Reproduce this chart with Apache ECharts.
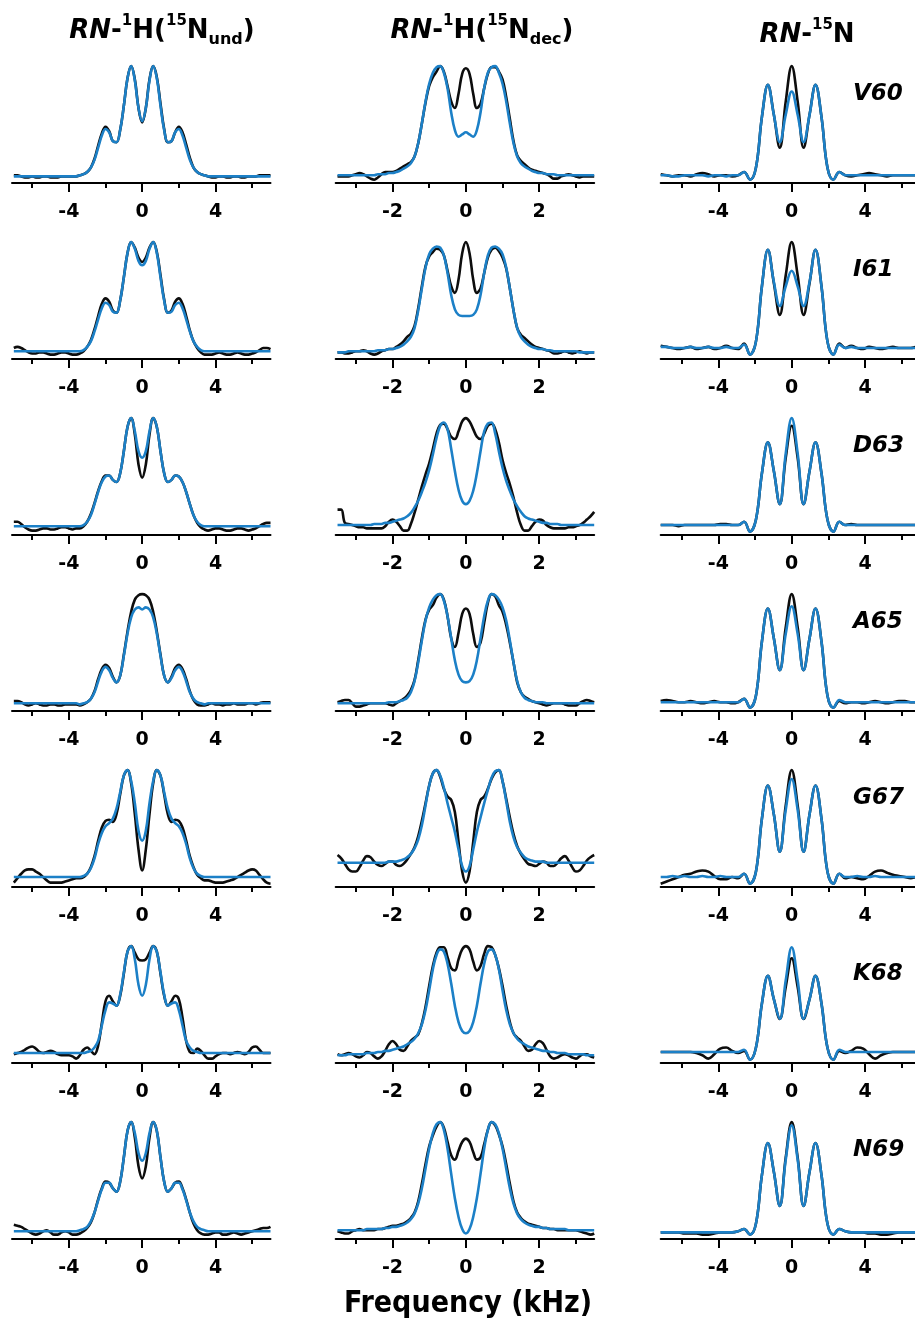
<!DOCTYPE html>
<html>
<head>
<meta charset="utf-8">
<script src="https://cdn.jsdelivr.net/npm/echarts@6/dist/echarts.min.js"></script>
<style>
  html, body { margin: 0; padding: 0; background: #fff; }
  #chart { width: 915px; height: 1328px; }
</style>
</head>
<body>
<div id="chart"></div>
<script>
// frequency grids (kHz) of the three columns
const xsUnd = [-7,-6.8,-6.6,-6.4,-6.2,-6,-5.8,-5.6,-5.4,-5.2,-5,-4.8,-4.6,-4.4,-4.2,-4,-3.8,-3.6,
  -3.4,-3.2,-3,-2.8,-2.6,-2.4,-2.2,-2,-1.8,-1.6,-1.4,-1.2,-1,-0.8,-0.6,-0.4,-0.2,0,0.2,0.4,0.6,0.8,1,1.2,1.4,1.6,1.8,2,2.2,2.4,2.6,2.8,3,3.2,3.4,
  3.6,3.8,4,4.2,4.4,4.6,4.8,5,5.2,5.4,5.6,5.8,6,6.2,6.4,6.6,6.8,7];
const xsDec = [-3.5,-3.4,-3.3,-3.2,-3.1,-3,-2.9,-2.8,-2.7,-2.6,-2.5,-2.4,-2.3,-2.2,-2.1,-2,-1.9,-1.8,
  -1.7,-1.6,-1.5,-1.4,-1.3,-1.2,-1.1,-1,-0.9,-0.8,-0.7,-0.6,-0.5,-0.4,-0.3,-0.2,-0.1,0,0.1,0.2,0.3,0.4,0.5,0.6,0.7,0.8,0.9,1,1.1,1.2,1.3,1.4,1.5,1.6,1.7,
  1.8,1.9,2,2.1,2.2,2.3,2.4,2.5,2.6,2.7,2.8,2.9,3,3.1,3.2,3.3,3.4,3.5];
const xsN15 = [-7.15,-6.825,-6.5,-6.175,-5.85,-5.525,-5.2,-4.875,-4.55,-4.225,-3.9,-3.575,-3.25,-2.925,-2.6,
  -2.275,-1.95,-1.625,-1.3,-0.975,-0.65,-0.325,0,0.325,0.65,0.975,1.3,1.625,1.95,2.275,
  2.6,2.925,3.25,3.575,3.9,4.225,4.55,4.875,5.2,5.525,5.85,6.175,6.5,6.825,7.15];

const residues = ['V60', 'I61', 'D63', 'A65', 'G67', 'K68', 'N69'];
const majorWide = [-4, 0, 4], minorWide = [-6, -2, 2, 6];
const majorDec = [-2, 0, 2], minorDec = [-3, -1, 1, 3];

// RN-1H(15N undecoupled): experiment (black) and fit (blue)
const und_V60 = [1,1,0,-1,-1,0,-1,-1,0,0,-1,-1,-1,0,0,0,0,0, 1,2,4,8,16,28,39,45,41,32,31,42,64,89,100,88,62,49,62,88,100,90,66,43,31,32,40,45,40,29,17,8,4,2,1, 0,-1,-1,0,0,-1,-1,0,0,-1,-1,0,0,0,1,1,1,1];
const und_V60_fit = [0,0,0,0,0,0,0,0,0,0,0,0,0,0,0,0,0,0, 1,2,4,8,15,26,37,43,40,32,31,42,64,89,100,87,62,50,62,87,100,89,64,42,31,32,40,43,37,26,15,8,4,2,1, 0,0,0,0,0,0,0,0,0,0,0,0,0,0,0,0,0,0];
const und_I61 = [4,5,4,2,0,-1,-1,0,0,-1,-2,-2,-1,0,0,-1,-2,-2, -1,1,5,11,21,33,44,49,46,38,36,47,68,90,100,95,86,82,86,95,100,91,70,48,36,38,46,49,44,33,20,10,4,0,-2, -2,-2,-1,0,-1,-2,-2,-1,0,-1,-2,-2,-1,0,2,4,4,3];
const und_I61_fit = [1,1,1,1,1,1,1,1,1,1,1,1,1,1,1,1,1,1, 1,2,5,10,19,30,40,45,43,37,36,47,68,90,100,94,83,79,83,94,100,90,68,47,36,37,43,45,40,30,19,10,5,2,1, 1,1,1,1,1,1,1,1,1,1,1,1,1,1,1,1,1,1];
const und_D63 = [6,6,4,1,-1,-2,-2,-1,0,0,-1,-1,0,1,1,0,-1,0, 0,2,6,13,23,34,43,48,48,44,42,50,70,92,100,85,58,46,58,85,100,92,70,50,42,44,48,47,42,33,22,12,5,1,-1, -2,-1,0,0,-1,-2,-2,-1,0,0,-1,-2,-1,0,2,4,5,5];
const und_D63_fit = [2,2,2,2,2,2,2,2,2,2,2,2,2,2,2,2,2,2, 2,3,6,12,22,33,42,47,48,44,42,50,70,92,100,88,70,64,70,88,100,92,70,50,42,44,48,47,42,33,22,12,6,3,2, 2,2,2,2,2,2,2,2,2,2,2,2,2,2,2,2,2,2];
const und_A65 = [3,3,2,0,-1,0,1,0,-1,-1,0,0,-1,-1,0,0,0,0, -1,0,2,5,12,23,32,36,33,25,20,26,45,66,84,95,99,100,99,95,84,66,45,26,20,25,33,36,32,23,12,4,0,-1,-1, 0,1,0,0,-1,0,0,1,0,0,0,1,1,0,1,2,2,2];
const und_A65_fit = [1,1,1,1,1,1,1,1,1,1,1,1,1,1,1,1,1,1, 0,1,2,5,11,21,30,34,31,24,20,26,44,64,79,86,88,86,88,86,79,64,44,26,20,24,31,34,30,21,11,5,2,1,0, 1,1,1,1,1,1,1,1,1,1,1,1,1,1,1,1,1,1];
const und_G67 = [-2,2,6,9,10,10,8,6,3,0,-2,-2,-2,-2,-1,0,1,2, 2,3,6,12,22,36,48,54,55,53,60,78,95,100,88,60,28,9,28,60,88,100,95,78,60,53,55,54,48,36,22,12,5,2,0, 0,-1,-2,-2,-2,-1,0,1,3,5,7,9,10,9,5,1,-2,-3];
const und_G67_fit = [3,3,3,3,3,3,3,3,3,3,3,3,3,3,3,3,3,3, 3,4,6,11,20,33,43,49,52,56,65,80,95,100,90,70,45,36,45,70,90,100,95,80,65,56,52,49,43,33,20,11,6,4,3, 3,3,3,3,3,3,3,3,3,3,3,3,3,3,3,3,3,3];
const und_K68 = [2,3,4,6,8,9,7,4,3,4,5,4,2,1,1,1,0,-2, 1,6,8,5,2,10,30,50,55,50,46,55,75,95,100,94,88,87,88,94,100,95,75,55,46,50,55,52,35,14,4,3,7,5,1, -2,-2,0,2,3,3,2,3,4,3,2,4,8,9,6,3,3,3];
const und_K68_fit = [3,3,3,3,3,3,3,3,3,3,3,3,3,3,3,3,3,3, 3,3,4,5,8,14,28,42,49,48,46,56,76,95,100,88,65,55,65,88,100,95,76,56,46,48,49,42,28,14,8,5,4,3,3, 3,3,3,3,3,3,3,3,3,3,3,3,3,3,3,3,3,3];
const und_N69 = [7,6,5,3,1,-1,-2,-1,1,2,0,-2,-2,0,1,0,-2,-2, -1,1,4,9,18,30,40,46,45,40,37,46,68,92,100,86,60,49,60,86,100,92,68,46,37,40,45,46,40,30,18,8,2,-1,-2, -2,-1,0,0,-2,-2,-1,0,-1,-2,-1,0,1,2,3,4,4,5];
const und_N69_fit = [1,1,1,1,1,1,1,1,1,1,1,1,1,1,1,1,1,1, 2,3,5,10,18,29,39,45,45,40,37,46,68,92,100,90,72,65,72,90,100,92,68,46,37,40,45,45,39,29,18,10,5,3,2, 1,1,1,1,1,1,1,1,1,1,1,1,1,1,1,1,1,1];

// RN-1H(15N decoupled)
const dec_V60 = [0,0,0,0,1,2,3,2,0,-2,-3,-1,2,4,4,4,5,7, 9,11,13,18,30,48,67,82,90,95,100,95,82,68,62,75,93,98,93,75,62,66,80,93,99,99,95,88,72,52,32,19,14,11,8, 6,5,4,3,2,0,-2,-2,0,1,2,1,0,-1,0,0,0,0];
const dec_V60_fit = [1,1,1,1,1,1,1,1,1,1,1,2,2,2,3,3,4,5, 7,9,12,18,30,48,68,84,94,99,100,94,80,58,42,36,38,40,38,36,42,58,80,94,99,100,94,84,68,48,30,18,12,9,7, 5,4,3,3,2,2,2,1,1,1,1,1,1,1,1,1,1,1];
const dec_I61 = [0,0,-1,-1,0,1,1,2,1,-1,-2,-1,1,2,3,3,5,7, 10,14,17,24,40,60,78,87,91,94,93,88,74,60,54,66,90,100,90,66,54,58,72,86,93,95,92,86,76,58,38,22,16,13,10, 7,5,4,3,2,1,-1,-1,0,1,0,-1,0,1,0,-1,0,0];
const dec_I61_fit = [0,0,0,1,1,1,1,1,1,1,1,2,2,2,3,3,4,5, 7,10,14,22,38,58,77,89,94,96,95,88,72,52,39,34,33,33,33,34,39,52,72,88,95,96,94,89,77,58,38,22,14,10,7, 5,4,3,3,2,2,1,1,1,1,1,1,1,0,0,0,0,0];
const dec_D63 = [17,17,5,4,3,2,1,1,0,0,0,0,0,2,6,8,6,2, -2,-2,4,14,26,38,49,59,72,86,94,95,90,83,81,88,97,100,97,90,83,81,86,93,95,90,78,62,50,40,28,14,3,-2,-2, 2,6,8,7,3,1,0,0,0,0,1,1,2,3,5,8,11,15];
const dec_D63_fit = [3,3,3,3,3,3,3,3,3,3,4,4,4,5,5,6,7,8, 9,11,14,19,25,33,42,53,67,82,93,96,90,72,52,35,25,22,25,34,50,70,88,95,96,86,70,55,43,34,26,20,15,11,9, 8,7,6,5,5,4,4,4,3,3,3,3,3,3,3,3,3,3];
const dec_A65 = [2,3,4,4,1,-2,-2,-1,0,1,1,1,1,1,0,-1,1,3, 5,8,13,22,40,60,77,86,90,97,100,95,80,60,52,65,82,87,82,64,52,56,74,92,100,98,90,84,72,56,38,20,11,7,5, 3,2,1,0,-1,0,1,1,1,0,-1,-1,-1,1,3,4,3,2];
const dec_A65_fit = [1,1,1,1,1,1,1,1,1,1,1,1,1,1,2,2,2,3, 4,6,11,21,38,58,76,88,95,99,100,94,80,60,40,27,21,20,21,27,40,60,80,94,100,99,95,88,76,58,38,21,11,6,4, 3,2,2,2,1,1,1,1,1,1,1,1,1,1,1,1,1,1];
const dec_G67 = [23,20,15,10,8,8,12,18,22,21,17,14,13,15,17,17,14,13, 15,19,24,30,40,54,70,86,97,100,94,83,76,73,62,35,8,-2,8,35,62,73,76,83,92,98,100,90,74,57,42,31,24,19,15, 14,13,15,17,16,13,13,16,20,22,18,12,8,9,13,18,21,23];
const dec_G67_fit = [16,16,16,16,16,16,16,16,16,16,16,16,16,16,17,17,17,18, 19,21,24,29,37,50,68,86,97,100,95,84,70,57,44,28,13,8,13,28,44,57,70,82,93,99,100,90,72,53,39,30,25,21,19, 18,17,17,17,16,16,16,16,16,16,16,16,16,16,16,16,16,16];
const dec_K68 = [2,1,2,3,2,0,-1,1,4,3,0,-2,0,5,11,14,11,6, 5,9,14,17,20,30,45,64,82,94,99,99,90,80,78,88,97,100,97,86,78,82,93,100,99,92,80,64,46,31,21,17,14,9,5, 6,11,14,12,6,0,-2,-1,1,2,1,-1,-2,0,2,2,0,-1];
const dec_K68_fit = [1,1,1,2,2,2,2,2,3,3,3,4,4,5,5,6,7,8, 9,11,13,16,21,29,42,60,79,92,97,95,84,66,46,31,23,21,23,31,46,66,84,95,97,92,79,60,42,29,21,16,13,11,9, 8,7,6,5,5,4,4,3,3,3,2,2,2,2,2,1,1,1];
const dec_N69 = [1,0,-1,-1,1,2,3,2,2,2,2,3,3,4,5,6,6,7, 8,10,13,18,28,44,62,78,88,96,100,95,82,70,66,74,82,85,82,73,66,68,80,93,100,97,89,78,62,44,28,18,13,10,8, 7,6,5,4,4,3,3,2,2,2,2,2,2,1,0,-1,-2,-1];
const dec_N69_fit = [2,2,2,2,2,2,2,2,3,3,3,3,3,4,4,5,5,6, 7,9,12,17,26,40,58,76,90,98,100,93,76,53,31,14,3,-1,3,14,31,53,76,93,100,98,90,76,58,40,26,17,12,9,7, 6,5,5,4,4,3,3,3,3,3,2,2,2,2,2,2,2,2];

// RN-15N
const n15_V60 = [2,1,0,1,1,0,2,3,2,0,1,1,0,1,4, -3,8,54,83,56,26,68,100,68,26,56,83,54,8,-3, 4,1,0,1,2,3,2,1,0,1,1,1,1,1,1];
const n15_V60_fit = [1,1,0,0,1,1,1,1,0,1,1,0,1,1,4, -3,8,54,83,56,31,56,77,56,31,56,83,54,8,-3, 4,1,1,1,1,1,1,1,1,1,1,1,1,1,1];
const n15_I61 = [6,5,4,3,4,5,3,4,5,3,4,6,4,3,8, -2,10,60,93,63,34,70,100,70,34,63,93,60,10,-2, 8,4,6,4,3,5,4,3,4,5,4,4,4,5,5];
const n15_I61_fit = [5,5,4,4,4,5,4,4,5,4,4,5,4,4,7, -2,10,60,93,64,42,60,74,60,42,64,93,60,10,-2, 7,4,5,4,4,4,4,4,4,4,4,4,4,4,4];
const n15_D63 = [3,3,3,2,3,3,3,3,3,3,4,4,3,3,6, -3,8,50,78,52,22,64,93,64,22,52,78,50,8,-3, 6,3,4,3,3,3,3,3,3,3,3,3,3,3,3];
const n15_D63_fit = [3,3,3,3,3,3,3,3,3,3,3,3,3,3,6, -3,8,50,78,52,22,68,100,68,22,52,78,50,8,-3, 6,3,3,3,3,3,3,3,3,3,3,3,3,3,3];
const n15_A65 = [3,4,3,2,2,3,2,1,2,3,2,2,1,2,5, -3,8,57,87,60,31,70,100,70,31,60,87,57,8,-3, 3,1,2,2,1,2,3,2,1,2,3,3,2,2,2];
const n15_A65_fit = [2,2,2,2,2,2,2,2,2,2,2,2,2,2,5, -3,8,57,87,60,31,64,89,64,31,60,87,57,8,-3, 4,2,2,2,2,2,2,2,2,2,2,2,2,2,2];
const n15_G67 = [-3,-1,1,3,5,6,8,9,8,4,1,1,3,2,6, -3,8,56,86,60,26,68,100,68,26,60,86,56,8,-3, 6,2,3,2,1,4,8,9,7,5,4,3,2,3,3];
const n15_G67_fit = [3,3,4,3,4,3,3,4,3,3,4,3,3,3,6, -3,8,56,86,60,26,64,92,64,26,60,86,56,8,-3, 6,3,3,4,3,3,4,3,3,3,3,3,3,3,3];
const n15_K68 = [4,4,4,4,4,4,3,1,-2,2,7,8,5,3,5, -3,8,48,73,52,34,63,89,63,34,52,73,48,8,-3, 5,3,5,8,7,2,-2,1,3,4,4,4,4,4,4];
const n15_K68_fit = [4,4,4,4,4,4,4,4,4,4,4,4,4,4,6, -3,8,48,73,52,34,69,99,69,34,52,73,48,8,-3, 6,4,4,4,4,4,4,4,4,4,4,4,4,4,4];
const n15_N69 = [0,0,0,0,-1,-1,-1,-2,-2,-1,0,0,0,1,3, -2,8,52,81,55,24,68,100,68,24,55,81,52,8,-2, 3,1,0,0,0,-1,-1,-2,-2,-1,0,0,0,0,0];
const n15_N69_fit = [0,0,0,0,0,0,0,0,0,0,0,0,0,1,3, -2,8,52,81,55,24,66,97,66,24,55,81,52,8,-2, 3,1,0,0,0,0,0,0,0,0,0,0,0,0,0];

// rows of [experiment, fit] pairs per column
const rows = [
  [[und_V60, und_V60_fit], [dec_V60, dec_V60_fit], [n15_V60, n15_V60_fit]],
  [[und_I61, und_I61_fit], [dec_I61, dec_I61_fit], [n15_I61, n15_I61_fit]],
  [[und_D63, und_D63_fit], [dec_D63, dec_D63_fit], [n15_D63, n15_D63_fit]],
  [[und_A65, und_A65_fit], [dec_A65, dec_A65_fit], [n15_A65, n15_A65_fit]],
  [[und_G67, und_G67_fit], [dec_G67, dec_G67_fit], [n15_G67, n15_G67_fit]],
  [[und_K68, und_K68_fit], [dec_K68, dec_K68_fit], [n15_K68, n15_K68_fit]],
  [[und_N69, und_N69_fit], [dec_N69, dec_N69_fit], [n15_N69, n15_N69_fit]],
];

const BLACK = '#0d0d0d';
const BLUE = '#1c80c7';
const axisY = [183, 359, 535, 711, 887, 1063, 1239];
const plotH = 118;
const cols = [
  { xs: xsUnd, left: 12, width: 258.5, min: -7.1, max: 7, major: majorWide, minor: minorWide },
  { xs: xsDec, left: 335.7, width: 258.5, min: -3.55, max: 3.5, major: majorDec, minor: minorDec },
  { xs: xsN15, left: 660.7, width: 262, min: -7.15, max: 7.15, major: majorWide, minor: minorWide },
];

const grid = [], xAxis = [], yAxis = [], series = [];
rows.forEach((row, r) => {
  row.forEach((pair, c) => {
    const col = cols[c];
    const g = grid.length;
    grid.push({ left: col.left, width: col.width, top: axisY[r] - plotH, height: plotH, outerBoundsMode: 'none' });
    xAxis.push({
      gridIndex: g, type: 'value', min: col.min, max: col.max, position: 'bottom',
      axisLine: { onZero: false, lineStyle: { color: '#000', width: 2 } },
      axisTick: { customValues: col.major, length: 9, lineStyle: { color: '#000', width: 2 } },
      axisLabel: { customValues: col.major, margin: 20, color: '#000', fontSize: 19, fontWeight: 'bold', fontFamily: 'DejaVu Sans' },
      splitLine: { show: false },
    });
    xAxis.push({
      gridIndex: g, type: 'value', min: col.min, max: col.max, position: 'bottom',
      axisLine: { show: false, onZero: false },
      axisTick: { customValues: col.minor, length: 5, lineStyle: { color: '#000', width: 2 } },
      axisLabel: { show: false },
      splitLine: { show: false },
    });
    yAxis.push({ gridIndex: g, type: 'value', min: -6, max: 101, show: false });
    [[pair[0], BLACK], [pair[1], BLUE]].forEach(([ys, color]) => {
      series.push({
        type: 'line', xAxisIndex: 2 * g, yAxisIndex: g,
        data: col.xs.map((x, i) => [x, ys[i]]),
        showSymbol: false, smooth: 0.4, silent: true,
        lineStyle: { color, width: 2.6 }, itemStyle: { color },
      });
    });
  });
});

const titleRich = {
  i: { fontSize: 26, fontWeight: 'bold', fontStyle: 'italic', fontFamily: 'DejaVu Sans', lineHeight: 34, fill: '#000' },
  n: { fontSize: 26, fontWeight: 'bold', fontFamily: 'DejaVu Sans', lineHeight: 34, fill: '#000' },
  s: { fontSize: 15, fontWeight: 'bold', fontFamily: 'DejaVu Sans', lineHeight: 25, verticalAlign: 'top', fill: '#000' },
  b: { fontSize: 16, fontWeight: 'bold', fontFamily: 'DejaVu Sans', lineHeight: 9, verticalAlign: 'bottom', fill: '#000' },
};
const titles = [
  { x: 162, y: 31, text: '{i|RN}{n|-}{s|1}{n|H(}{s|15}{n|N}{b|und}{n|)}' },
  { x: 482, y: 31, text: '{i|RN}{n|-}{s|1}{n|H(}{s|15}{n|N}{b|dec}{n|)}' },
  { x: 807, y: 35, text: '{i|RN}{n|-}{s|15}{n|N}' },
];

const graphic = titles.map(t => ({
  type: 'text', x: t.x, y: t.y, silent: true,
  style: { text: t.text, rich: titleRich, align: 'center', verticalAlign: 'middle' },
}));
residues.forEach((name, r) => {
  graphic.push({
    type: 'text', x: 853, y: axisY[r] - 89, silent: true,
    style: { text: name, font: 'italic bold 23px "DejaVu Sans"', fill: '#000', align: 'left', verticalAlign: 'middle' },
  });
});
graphic.push({
  type: 'text', x: 468, y: 1304, silent: true,
  style: { text: 'Frequency (kHz)', font: 'bold 30px "DejaVu Sans Condensed"', fill: '#000', align: 'center', verticalAlign: 'middle' },
});

const chart = echarts.init(document.getElementById('chart'), null, { renderer: 'canvas' });
chart.setOption({
  animation: false,
  backgroundColor: '#fff',
  grid, xAxis, yAxis, series, graphic,
});
</script>
</body>
</html>
